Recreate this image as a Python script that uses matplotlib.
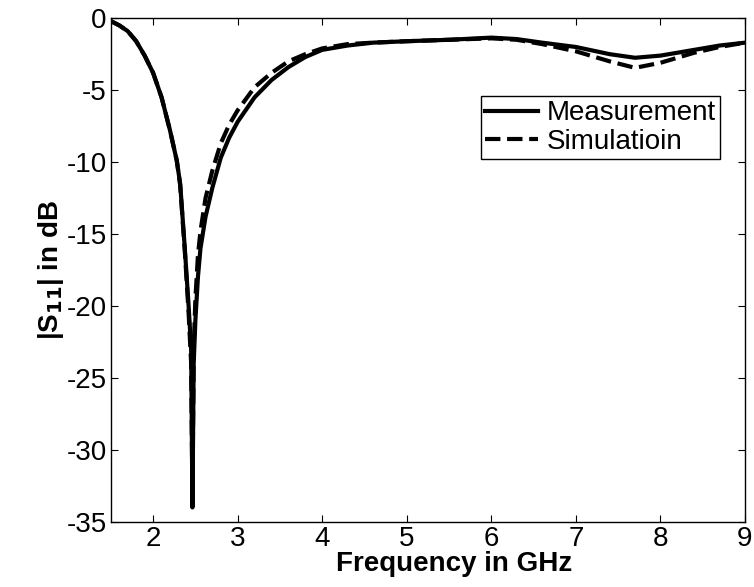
import matplotlib
matplotlib.use('Agg')
from matplotlib import pyplot as plt

plt.rcParams['font.family'] = ['Liberation Sans', 'DejaVu Sans']
plt.rcParams['axes.unicode_minus'] = False

# frequency grid in GHz
freq = [1.5, 1.6, 1.7, 1.8, 1.9, 2.0, 2.1, 2.2, 2.28, 2.32, 2.375, 2.42,
        2.45, 2.465, 2.48, 2.5, 2.53, 2.56, 2.62, 2.7, 2.8, 2.9, 3.0, 3.2,
        3.4, 3.6, 3.8, 4.0, 4.3, 4.6, 5.0, 5.5, 6.0, 6.3, 6.6, 7.0, 7.4,
        7.7, 8.0, 8.4, 8.7, 9.0]

# |S11| in dB
measurement = [-0.2, -0.5, -0.9, -1.6, -2.6, -3.8, -5.5, -7.8, -9.9, -11.5,
               -16.0, -20.0, -23.0, -34.0, -24.0, -21.0, -18.0, -16.0, -13.8,
               -11.8, -9.7, -8.3, -7.2, -5.5, -4.3, -3.4, -2.7, -2.2, -1.9,
               -1.7, -1.6, -1.5, -1.35, -1.45, -1.7, -2.0, -2.5, -2.75, -2.6,
               -2.2, -1.9, -1.7]
simulation = [-0.2, -0.5, -0.9, -1.6, -2.6, -3.8, -5.5, -7.8, -9.9, -11.6,
              -16.2, -20.5, -24.0, -33.5, -23.0, -19.5, -16.5, -14.8, -12.5,
              -10.6, -8.7, -7.4, -6.4, -4.8, -3.8, -3.0, -2.5, -2.1, -1.8,
              -1.7, -1.6, -1.5, -1.4, -1.5, -1.8, -2.3, -3.0, -3.45, -3.1,
              -2.4, -2.0, -1.7]

fig = plt.figure(figsize=(7.54, 5.87), dpi=100)
ax = fig.add_axes([0.147, 0.111, 0.841, 0.858])

ax.plot(freq, measurement, 'k-', lw=3, label='Measurement')
ax.plot(freq, simulation, 'k--', lw=3, label='Simulatioin')

ax.set_xlim(1.5, 9)
ax.set_ylim(-35, 0)
ax.set_xticks(range(2, 10))
ax.set_yticks(range(-35, 1, 5))
ax.tick_params(direction='in', top=True, right=True, labelsize=20, length=5,
               pad=3)
for s in ax.spines.values():
    s.set_linewidth(1)

ax.set_xlabel('Frequency in GHz', fontsize=20, fontweight='bold')
ax.xaxis.set_label_coords(0.541, -0.058, transform=ax.transAxes)
ax.xaxis.label.set_va('top')
ax.set_ylabel('|S$_{\\mathbf{11}}$| in dB', fontsize=20, fontweight='bold',
              labelpad=0)

leg = ax.legend(loc='upper right', bbox_to_anchor=(0.96, 0.845), fontsize=20,
                fancybox=False, framealpha=1, edgecolor='k', handlelength=1.9,
                handletextpad=0.3, borderpad=0.15, labelspacing=0.1,
                borderaxespad=0)
leg.get_frame().set_linewidth(1)

plt.savefig('out.png', dpi=100)
